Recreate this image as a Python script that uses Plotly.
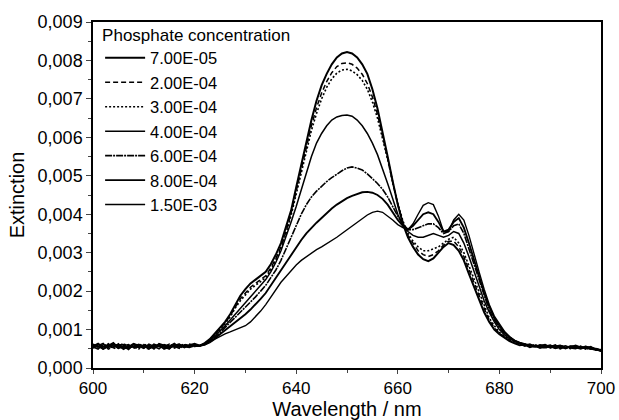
import plotly.graph_objects as go

# wavelength grid, nm
wavelength = list(range(600, 701))

concentrations = ["7.00E-05", "2.00E-04", "3.00E-04", "4.00E-04",
                  "6.00E-04", "8.00E-04", "1.50E-03"]

# extinction values, in units of 1e-4
ext_7e5 = [5.6, 6.3, 5.0, 5.8, 6.5, 5.2, 5.7, 4.9, 6.2, 5.4, 5.9, 5.1, 5.6, 6.1, 5.0, 5.5, 6.3, 5.4, 5.8, 5.9, 6.3,
           5.8, 6.5, 7.5, 9.0, 10.5, 12.0, 14.0, 16.5, 18.8, 20.5, 22.0, 23.0, 24.0, 25.0, 27.0, 29.5, 32.5, 36.5, 41.0,
           47.0, 53.0, 59.0, 64.5, 69.5, 73.5, 76.5, 79.0, 80.8, 81.8, 82.2, 81.8, 80.8, 79.0, 76.5, 72.5, 67.5, 61.5,
           55.0, 48.5, 42.5, 37.5, 34.0, 31.5, 29.5, 28.3, 27.8, 28.5, 30.0, 31.5, 32.5, 32.0, 30.5, 28.0, 24.5, 21.0,
           17.5, 14.5, 12.0, 10.0, 8.8, 7.8, 7.0, 6.4, 5.9, 6.1, 5.4, 5.8, 5.2, 5.6, 5.9, 5.3, 5.7, 5.1, 5.6, 5.4,
           5.0, 5.5, 5.2, 4.8, 4.6]
ext_2e4 = [5.2, 5.9, 6.4, 4.9, 5.6, 6.2, 5.3, 5.8, 5.0, 6.3, 5.5, 4.9, 6.1, 5.4, 5.7, 5.1, 5.9, 6.2, 5.5, 6.2, 5.8,
           5.8, 6.4, 7.4, 8.8, 10.2, 11.7, 13.6, 16.0, 18.0, 19.5, 21.0, 22.0, 23.0, 24.0, 26.0, 28.5, 31.5, 35.5, 40.3,
           46.0, 52.0, 57.8, 63.0, 67.7, 71.5, 74.5, 76.8, 78.4, 79.2, 79.4, 79.0, 78.0, 76.4, 74.0, 70.5, 66.0, 60.5,
           54.5, 48.3, 42.5, 38.0, 34.5, 32.5, 30.5, 29.5, 29.0, 29.5, 30.5, 32.0, 33.0, 33.0, 31.5, 29.0, 25.5, 22.0,
           18.5, 15.5, 12.5, 10.5, 9.0, 8.0, 7.2, 6.6, 6.3, 5.7, 6.0, 5.4, 5.9, 5.3, 5.5, 6.0, 5.2, 5.6, 5.3, 5.8,
           5.1, 5.3, 4.9, 5.1, 4.5]
ext_3e4 = [6.1, 5.4, 5.7, 6.3, 5.0, 5.6, 6.4, 5.4, 5.5, 4.9, 6.2, 5.7, 5.3, 5.9, 5.6, 6.1, 5.2, 5.7, 6.2, 5.6, 6.1,
           5.8, 6.3, 7.3, 8.6, 10.0, 11.5, 13.3, 15.6, 17.5, 19.0, 20.5, 21.5, 22.5, 23.5, 25.5, 28.0, 31.0, 35.0, 39.7,
           45.2, 51.0, 56.7, 61.8, 66.2, 70.0, 73.0, 75.2, 76.7, 77.5, 77.7, 77.3, 76.3, 74.8, 72.5, 69.2, 65.0, 60.0,
           54.3, 48.3, 42.7, 38.3, 35.0, 33.0, 31.5, 30.5, 30.5, 31.0, 31.5, 32.5, 33.5, 34.0, 32.5, 30.0, 26.5, 23.0,
           19.5, 16.0, 13.0, 11.0, 9.3, 8.2, 7.4, 6.7, 6.0, 6.2, 5.6, 5.9, 5.5, 5.8, 5.2, 5.6, 5.9, 5.4, 5.0, 5.5,
           5.3, 5.0, 5.4, 4.7, 4.4]
ext_4e4 = [5.5, 4.9, 6.1, 5.7, 5.3, 6.3, 4.9, 5.9, 5.6, 5.7, 5.1, 6.2, 5.5, 5.0, 6.1, 5.7, 5.4, 5.9, 5.3, 6.0, 5.9,
           5.8, 6.3, 7.2, 8.4, 9.6, 11.0, 12.5, 14.0, 15.5, 17.0, 18.5, 20.0, 21.5, 23.0, 25.0, 27.5, 30.5, 34.0, 38.0,
           42.0, 46.5, 51.0, 55.0, 58.5, 61.0, 63.0, 64.5, 65.3, 65.7, 65.8, 65.5, 64.5, 63.0, 61.0, 58.5, 55.5, 52.0,
           48.0, 44.0, 40.0, 37.0, 35.5, 34.5, 34.0, 34.0, 34.5, 35.0, 34.5, 34.0, 34.5, 35.5, 35.0, 32.5, 29.0, 25.0,
           21.0, 17.5, 14.5, 12.0, 10.0, 8.6, 7.6, 6.9, 6.4, 5.9, 6.2, 5.6, 5.4, 5.9, 5.6, 5.1, 5.5, 5.8, 5.2, 5.0,
           5.6, 5.1, 5.0, 4.6, 4.8]
ext_6e4 = [5.8, 5.5, 5.2, 6.2, 5.9, 5.1, 5.8, 6.1, 5.3, 5.5, 6.1, 5.4, 5.8, 5.6, 5.2, 6.2, 5.6, 5.1, 6.0, 5.7, 5.6,
           5.8, 6.2, 7.0, 8.0, 9.2, 10.5, 12.0, 13.3, 14.5, 15.8, 17.0, 18.5, 20.0, 21.5, 23.5, 25.5, 28.0, 31.0, 34.0,
           37.0, 40.0, 42.5, 44.5, 46.0, 47.3, 48.5, 49.5, 50.5, 51.3, 52.0, 52.3, 52.0, 51.5, 50.5, 49.3, 48.0, 46.5,
           44.5, 42.0, 39.5, 37.5, 36.0, 36.0, 36.5, 37.0, 37.5, 37.5, 36.5, 35.0, 35.5, 37.0, 37.5, 35.0, 31.0, 26.5,
           22.5, 18.5, 15.0, 12.5, 10.5, 9.0, 7.9, 7.0, 6.5, 6.0, 5.7, 6.1, 5.5, 5.2, 5.8, 5.5, 5.0, 5.6, 5.4, 5.2,
           5.7, 4.9, 5.3, 4.9, 4.5]
ext_8e4 = [5.3, 6.2, 5.6, 5.4, 6.1, 5.7, 5.0, 5.5, 6.3, 5.8, 5.3, 5.9, 5.0, 6.3, 5.8, 5.4, 5.8, 6.1, 5.6, 5.4, 5.9,
           5.8, 6.1, 6.8, 7.7, 8.8, 9.8, 11.0, 12.0, 13.0, 14.0, 15.2, 16.5, 18.0, 19.5, 21.5, 23.5, 25.5, 27.5, 29.5,
           31.5, 33.3, 35.0, 36.5, 37.8, 39.0, 40.3, 41.5, 42.5, 43.4, 44.2, 44.8, 45.3, 45.7, 45.8, 45.6, 45.0, 44.0,
           42.5, 40.5, 38.5, 37.0, 36.0, 37.0, 38.5, 40.0, 40.5, 40.0, 38.0, 35.5, 36.0, 38.0, 39.0, 36.5, 32.5, 28.0,
           23.5, 19.5, 16.0, 13.0, 11.0, 9.3, 8.0, 7.1, 6.6, 6.2, 5.8, 5.5, 6.0, 5.7, 5.3, 5.8, 5.4, 5.2, 5.7, 5.6,
           5.2, 5.6, 5.1, 5.0, 4.6]
ext_15e4 = [6.2, 5.7, 4.9, 5.6, 5.5, 6.0, 6.1, 5.1, 5.7, 6.2, 5.6, 5.2, 6.2, 5.7, 5.5, 4.9, 6.1, 5.6, 5.9, 5.8, 5.7,
            5.7, 6.0, 6.6, 7.5, 8.3, 8.9, 9.4, 9.9, 10.4, 11.0, 12.0, 13.3, 14.8, 16.5, 18.5, 20.5, 22.3, 23.8, 25.3,
            26.8, 28.0, 29.0, 30.0, 30.8, 31.5, 32.3, 33.1, 34.0, 35.0, 36.0, 37.0, 38.0, 39.0, 39.8, 40.5, 40.8, 40.5,
            39.6, 38.5, 37.3, 36.5, 36.0, 37.5, 40.0, 42.3, 43.0, 42.5, 39.5, 35.5, 35.5, 38.5, 40.0, 38.5, 34.5, 29.5,
            25.0, 20.5, 16.5, 13.5, 11.5, 9.5, 8.2, 7.2, 6.5, 6.1, 5.9, 5.6, 5.8, 6.1, 5.4, 5.7, 5.9, 5.3, 5.5, 5.9,
            5.4, 5.2, 5.6, 4.8, 4.3]

series = [ext_7e5, ext_2e4, ext_3e4, ext_4e4, ext_6e4, ext_8e4, ext_15e4]
dashes = ["solid", "5px,3px", "2px,2px", "solid", "7px,1px,2px,1px", "solid", "solid"]
widths = [2.0, 1.5, 1.6, 1.5, 1.6, 1.9, 1.4]

fig = go.Figure()
for i, (name, vals) in enumerate(zip(concentrations, series)):
    fig.add_trace(go.Scatter(
        x=wavelength, y=[v * 1e-4 for v in vals], mode="lines", name=name,
        legendgroup=name,
        line=dict(color="black", width=widths[i], dash=dashes[i])
    ))

fig.update_layout(
    width=619, height=420,
    margin=dict(l=93, r=18, t=22, b=52),
    paper_bgcolor="white", plot_bgcolor="white",
    font=dict(family="Liberation Sans, Arial, sans-serif", size=17, color="black"),
    separators=",.",
    showlegend=True,
    legend=dict(
        x=0.014, y=1.01, xanchor="left", yanchor="top",
        bgcolor="rgba(0,0,0,0)",
        font=dict(size=16.5),
        title=dict(text="Phosphate concentration", font=dict(size=17)),
        tracegroupgap=0,
        itemwidth=40,
        traceorder="normal",
    ),
)

fig.update_xaxes(
    range=[600, 700], tick0=600, dtick=20,
    ticks="outside", ticklen=4, tickwidth=1.2,
    minor=dict(dtick=10, ticks="outside", ticklen=3, tickwidth=1),
    showline=True, linecolor="black", linewidth=1.5, mirror=True,
    showgrid=False, zeroline=False, automargin=False,
    title=dict(text="Wavelength / nm", standoff=7),
    tickfont=dict(size=17),
)
fig.update_yaxes(
    range=[0, 0.009], tick0=0, dtick=0.001, tickformat=".3f",
    ticks="outside", ticklen=5, tickwidth=1.2,
    minor=dict(dtick=0.0005, ticks="outside", ticklen=3, tickwidth=1),
    showline=True, linecolor="black", linewidth=1.5, mirror=True,
    showgrid=False, zeroline=False, automargin=False,
    title=dict(text="Extinction", standoff=8),
    tickfont=dict(size=18),
)

# remove the default page margin so the figure sits at the window origin
fig.write_html("out.html",
               config={"responsive": False, "displayModeBar": False},
               post_script="document.body.style.margin='0';")
